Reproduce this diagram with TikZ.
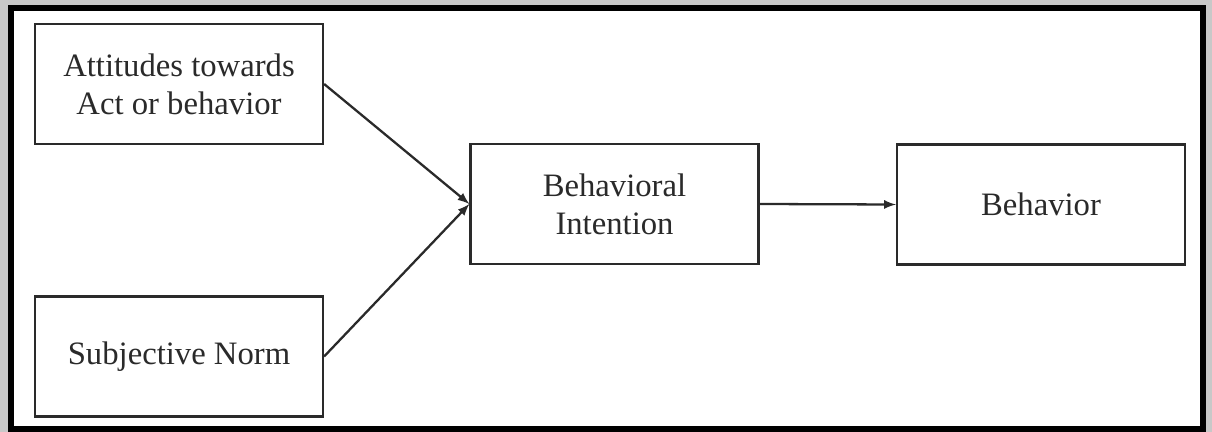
\documentclass[tikz,border=0pt]{standalone}
\usepackage{fontspec}
\setmainfont{Liberation Serif}

\definecolor{inkgray}{HTML}{2A2A2A}
\definecolor{edgegray}{HTML}{C8C8C8}

\begin{document}
\begin{tikzpicture}[x=0.02cm,y=-0.02cm,>={latex[scale=1.3]}]
  \tikzset{box/.style={draw=inkgray, line width=1.3pt, minimum width=5.76cm,
      minimum height=2.4cm, align=center, text=inkgray,
      font=\fontsize{18.6}{21.6}\selectfont}}
  % frame
  \fill[edgegray] (0,0) rectangle (1212,432);
  \filldraw[fill=white, draw=black, line width=3.4pt] (11,8) rectangle (1203,429);
  \useasboundingbox (0,0) rectangle (1212,432);
  % boxes
  \node[box] (att) at (179,84) {Attitudes towards\\Act or behavior};
  \node[box] (norm) at (179,356.5) {Subjective Norm};
  \node[box] (intent) at (614.5,204) {Behavioral\\Intention};
  \node[box] (behav) at (1041,204.5) {Behavior};
  % arrows
  \draw[->, inkgray, line width=1.3pt] (att.east) -- (intent.west);
  \draw[->, inkgray, line width=1.3pt] (norm.east) -- (intent.west);
  \draw[->, inkgray, line width=1.3pt] (intent.east) -- (behav.west);
\end{tikzpicture}
\end{document}
